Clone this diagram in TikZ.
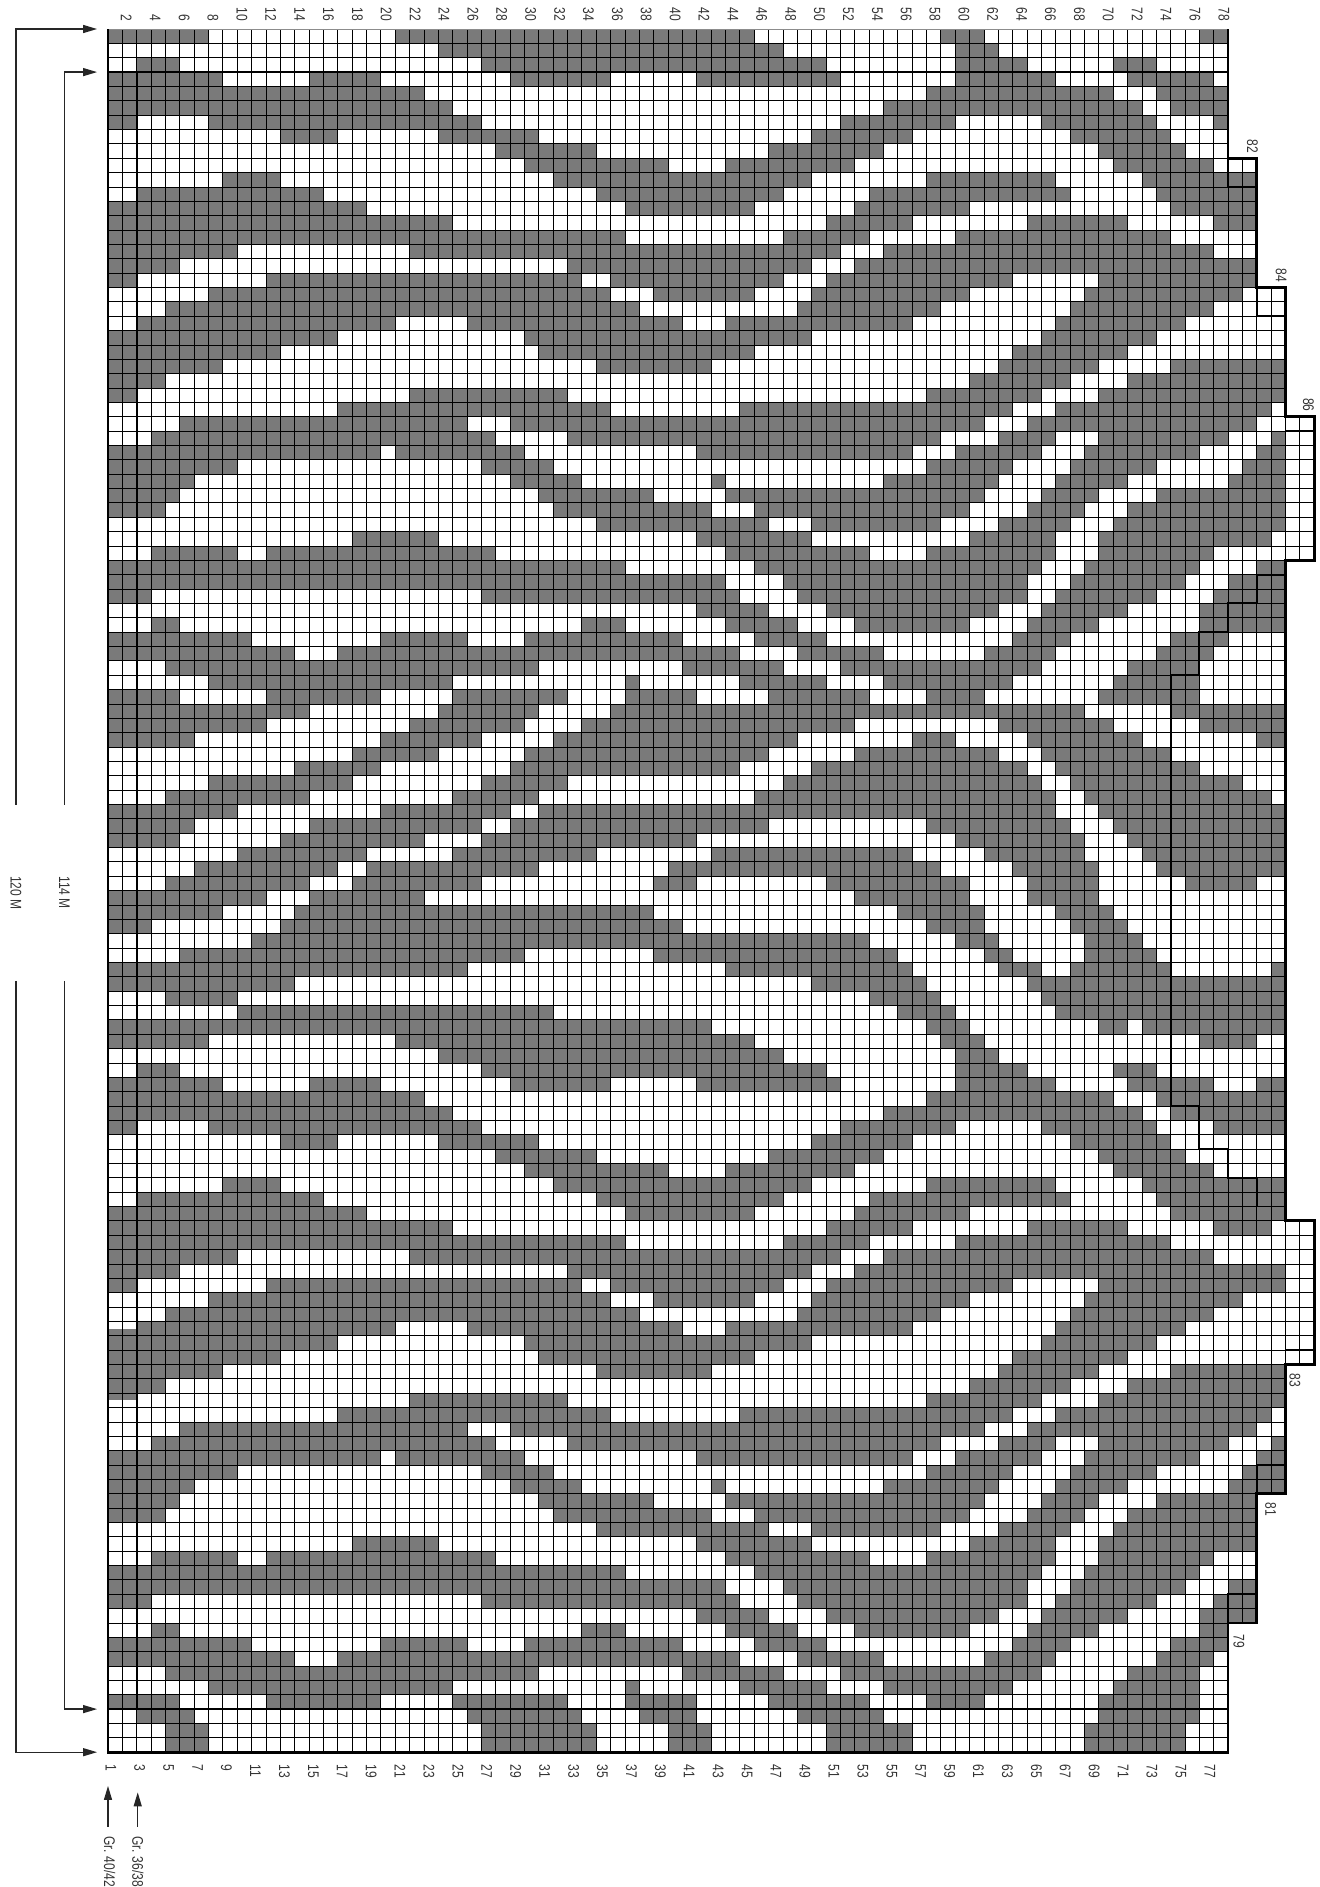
\documentclass[tikz,border=0pt]{standalone}
\usepackage{fontspec}
\setmainfont[FakeStretch=0.78]{Liberation Sans}
\usetikzlibrary{arrows.meta}

\begin{document}
\begin{tikzpicture}[
    x=0.36cm, y=-0.36cm,
    cell/.style={fill=black!52},
    gridline/.style={black, line width=0.55pt},
    border/.style={black, line width=2pt},
    frameline/.style={black, line width=1.4pt},
    numlabel/.style={rotate=-90, inner sep=0pt, font=\fontsize{11}{11}\selectfont, text=black!80},
    dimlabel/.style={numlabel, minimum width=4.4cm},
    arr/.style={-{Triangle[length=3.5mm, width=2.0mm]}, black!85, line width=0.9pt}]
  \useasboundingbox (-7.521,-2.02) rectangle (84.40,129.39);
  \foreach \row/\spans in {
    0/{0/6,20/44,58/60,76/77}, 1/{23/46,59/61}, 2/{2/4,26/49,59/63,70/72},
    3/{0/7,14/18,28/34,41/50,59/65,71/76}, 4/{0/21,57/69,73/77}, 5/{0/23,54/71,74/77},
    6/{0/1,7/25,51/58,65/72,77}, 7/{12/15,23/29,49/55,67/73}, 8/{27/33,46/53,69/74},
    9/{29/38,43/51,70/76}, 10/{8/11,31/48,57/65,72/79}, 11/{2/14,34/46,53/66,73/79},
    12/{0/17,36/44,52/59,74/79}, 13/{0/23,50/55,64/70,77/79}, 14/{0/35,47/52,59/73},
    15/{0/8,21/50,54/76}, 16/{0/4,32/48,52/79}, 17/{0/1,11/32,35/46,50/62,69/79},
    18/{7/34,38/44,49/59,68/78}, 19/{4/36,48/57,67/76}, 20/{2/19,25/39,43/55,66/74},
    21/{0/15,29/48,65/72}, 22/{0/11,30/44,63/70}, 23/{0/7,34/41,62/68,74/81},
    24/{0/3,60/66,71/81}, 25/{0/1,21/31,57/64,69/81}, 26/{16/34,44/62,66/80},
    27/{5/24,28/60,64/79}, 28/{3/26,32/57,62/65,69/77,81}, 29/{0/18,20/28,41/55,59/64,68/75,80/81},
    30/{0/8,26/30,57/62,67/72,79/81}, 31/{0/5,28/32,42,54/61,66/70,78/81}, 32/{0/4,30/37,43/60,65/68,73/81},
    33/{0/3,31/41,45/59,64/67,71/81}, 34/{34/45,49/57,62/66,70/81}, 35/{17/22,41/48,60/65,69/80},
    36/{3/8,11/26,43/52,57/65,69/76}, 37/{0/35,45/64,68/75,80/81}, 38/{0/42,47/63,67/74,78/81},
    39/{0/2,26/43,48/63,66/72,77/81}, 40/{41/45,50/61,65/70,76/81}, 41/{3/4,33/35,43/47,52/59,64/68,76/81},
    42/{0/9,19/24,29/39,45/49,63/66,74/77}, 43/{0/12,16/43,48/53,61/65,73/76}, 44/{4/29,40/46,51/64,71/75},
    45/{7/23,36,44/49,54/62,70/75}, 46/{0/4,11/18,24/31,36/40,46/52,57/60,69/75}, 47/{0/13,23/29,35/67,74/81},
    48/{0/10,21/28,33/51,62/69,76/81}, 49/{0/5,19/25,31/47,56/58,64/71,80/81}, 50/{17/22,29/45,52/61,65/73},
    51/{13/18,28/43,49/63,66/75}, 52/{7/16,26/31,47/64,67/78}, 53/{4/13,24/29,45/65,68/80},
    54/{0/8,19/27,30/65,69/81}, 55/{0/5,14/25,28/45,57/66,70/81}, 56/{0/4,12/21,26/40,59/67,71/81},
    57/{9/17,24/33,42/55,61/67,72/81}, 58/{6/15,18/29,39/57,63/68,73/81}, 59/{4/13,17/25,38/40,50/59,64/68,75/79},
    60/{0/10,14/21,52/59,64/68}, 61/{0/7,13/37,55/60,66/69}, 62/{0/2,12/39,57/60,67/70},
    63/{10/52,59/61,68/71}, 64/{5/28,38/54,61/62,68/72}, 65/{0/24,43/55,62/64,67/73,81},
    66/{0/12,49/56,64/81}, 67/{4/8,53/57,65/81}, 68/{9/30,55/58,66/81},
    69/{0/41,57/59,69/70,72/81}, 70/{0/6,20/44,58/60,76/79}, 71/{23/46,59/61},
    72/{2/4,26/49,59/63,70/72}, 73/{0/7,14/18,28/34,41/50,59/65,71/76,80/81}, 74/{0/21,57/69,73/81},
    75/{0/23,54/71,74/81}, 76/{0/1,7/25,51/58,65/72,77/81}, 77/{12/15,23/29,49/55,67/73},
    78/{27/33,46/53,69/74}, 79/{29/38,43/51,70/76}, 80/{8/11,31/48,57/65,72/81},
    81/{2/14,34/46,53/66,73/81}, 82/{0/17,36/44,52/59,74/81}, 83/{0/23,50/55,64/70,77/80},
    84/{0/35,47/52,59/73}, 85/{0/8,21/50,54/76}, 86/{0/4,32/48,52/81},
    87/{0/1,11/32,35/46,50/62,69/81}, 88/{7/34,38/44,49/59,68/78}, 89/{4/36,48/57,67/76},
    90/{2/19,25/39,43/55,66/74}, 91/{2/15,29/48,65/72}, 92/{2/11,30/44,63/70},
    93/{2/7,34/41,62/68,74/81}, 94/{2/3,60/66,71/81}, 95/{21/31,57/64,69/81},
    96/{16/34,44/62,66/80}, 97/{5/24,28/60,64/79}, 98/{3/26,32/57,62/65,69/77,81},
    99/{0/18,20/28,41/55,59/64,68/75,80/81}, 100/{0/8,26/30,57/62,67/72,79/81}, 101/{0/5,28/32,42,54/61,66/70,78/81},
    102/{0/4,30/37,43/60,65/68,73/79}, 103/{0/3,31/41,45/59,64/67,71/79}, 104/{34/45,49/57,62/66,70/79},
    105/{17/22,41/48,60/65,69/79}, 106/{3/8,11/26,43/52,57/65,69/76}, 107/{0/35,45/64,68/75},
    108/{0/42,47/63,67/74,78/79}, 109/{0/2,26/43,48/63,66/72,77/79}, 110/{41/45,50/61,65/70,76/79},
    111/{3/4,33/35,43/47,52/59,64/68,76/77}, 112/{0/9,19/24,29/39,45/49,63/66,74/77}, 113/{0/12,16/43,48/53,61/65,73/76},
    114/{4/29,40/46,51/64,71/75}, 115/{7/23,36,44/49,54/62,70/75}, 116/{0/4,11/18,24/31,36/40,46/52,57/60,69/75},
    117/{2/5,25/32,37/40,48/53,69/75}, 118/{4/6,26/33,39/41,50/55,68/74}, 119/{4/6,26/33,39/41,50/55,68/74}}
    \foreach \from/\to in \spans
      \fill[cell] (\from,\row) rectangle (\to+1,\row+1);
  \fill[cell] (0,90.5) rectangle (2,95.5);
  \begin{scope}
    \clip (0,0) -| (78,9) -| (80,18) -| (82,27) -| (84,37) -| (82,83) -| (84,93) -| (82,102) -| (80,111) -| (78,120) -| cycle;
    \foreach \col in {1,...,83}
      \draw[gridline] (\col,0) -- (\col,120);
    \foreach \row in {1,...,119}
      \draw[gridline] (0,\row) -- (84,\row);
  \end{scope}
  \draw[black!45, line width=0.7pt] (0,0) -- (78,0);
  \draw[border] (0,0) -- (0,120) -| (78,111) -| (80,102) -| (82,93) -| (84,83) -| (82,37) -| (84,27) -| (82,18) -| (80,9) -| (78,0);
  \draw[frameline] (0,3) -- (78,3);
  \draw[frameline] (0,117) -- (78,117);
  \draw[frameline] (2,3) -- (2,117);
  \draw[frameline] (82,38) -| (80,40) -| (78,42) -| (76,45) -| (74,75) -| (76,78) -| (78,80) -| (80,82) -- (82,82);
  \draw[frameline] (78,9) |- (80,11);
  \draw[frameline] (80,18) |- (82,20);
  \draw[frameline] (82,27) |- (84,28);
  \draw[frameline] (82,93) |- (84,92);
  \draw[frameline] (80,102) |- (82,100);
  \draw[frameline] (78,111) |- (80,109);
  \foreach \num in {2,4,...,78}
    \node[numlabel, anchor=east] (top\num) at ({1.278+(\num-2)*1.0056},-0.52) {\num};
  \foreach \num in {1,3,...,77}
    \node[numlabel, anchor=west] (bot\num) at ({0.2+(\num-1)*1.007},120.85) {\num};
  \node[numlabel, anchor=east] (top82) at (79.7,8.65) {82};
  \node[numlabel, anchor=east] (top84) at (81.7,17.65) {84};
  \node[numlabel, anchor=east] (top86) at (83.6,26.65) {86};
  \node[numlabel, anchor=west] (bot83) at (82.66,93.6) {83};
  \node[numlabel, anchor=west] (bot81) at (80.96,102.6) {81};
  \node[numlabel, anchor=west] (bot79) at (78.76,111.8) {79};
  \node[dimlabel] (lenouter) at (-6.41,60.15) {120 M};
  \node[dimlabel] (leninner) at (-3.04,60.15) {114 M};
  \coordinate (outertop) at (-0.76,0);
  \coordinate (outerbot) at (-0.76,120);
  \coordinate (innertop) at (-0.76,3);
  \coordinate (innerbot) at (-0.76,117);
  \draw[arr] (lenouter.west) |- (outertop);
  \draw[arr] (lenouter.east) |- (outerbot);
  \draw[arr] (leninner.west) |- (innertop);
  \draw[arr] (leninner.east) |- (innerbot);
  \node[numlabel, anchor=west] (gra) at (0.12,125.85) {Gr. 40/42};
  \node[numlabel, anchor=west] (grb) at (2.08,125.85) {Gr. 36/38};
  \coordinate (grtipa) at (0,122.35);
  \coordinate (grtipb) at (2.07,122.8);
  \draw[arr] ([yshift=2.4mm]gra.west -| grtipa) -- (grtipa);
  \draw[arr] ([yshift=2.4mm]grb.west -| grtipb) -- (grtipb);
\end{tikzpicture}
\end{document}
